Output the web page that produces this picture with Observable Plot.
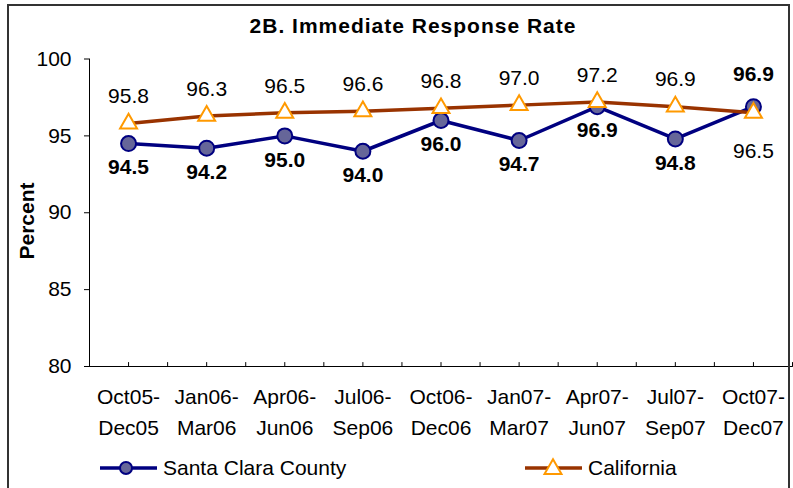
<!DOCTYPE html>
<html><head><meta charset="utf-8">
<script src="https://cdn.jsdelivr.net/npm/d3@7"></script>
<script src="https://cdn.jsdelivr.net/npm/@observablehq/plot@0.6"></script>
<style>
body{margin:0;background:#fff;font-family:"Liberation Sans",Arial,sans-serif;}
#wrap{position:relative;width:793px;height:488px;overflow:hidden;background:#fff;}
#frame{position:absolute;left:7px;top:4px;width:783px;height:520px;border:2px solid #333;box-sizing:border-box;pointer-events:none;}
#title{position:absolute;top:14px;left:0;width:826px;text-align:center;font-weight:bold;font-size:21px;letter-spacing:1px;color:#000;line-height:24px;}
#ylabel{position:absolute;left:27px;top:221px;transform:translate(-50%,-50%) rotate(-90deg);font-weight:bold;font-size:21px;white-space:nowrap;color:#000;}
.leg{position:absolute;top:456px;height:24px;display:flex;align-items:center;font-size:21px;color:#000;white-space:nowrap;}
.leg svg{margin-right:4px;}
#chart{position:absolute;left:0;top:0;}
</style>
</head><body>
<div id="wrap">
  <div id="chart"></div>
  <div id="title"></div>
  <div id="ylabel"></div>
  <div id="leg1" class="leg" style="left:99px"></div>
  <div id="leg2" class="leg" style="left:524px"></div>
  <div id="frame"></div>
</div>
<script>
const titleText = "2B. Immediate Response Rate";
const yLabel = "Percent";
const periods = ["Oct05-\nDec05","Jan06-\nMar06","Apr06-\nJun06","Jul06-\nSep06","Oct06-\nDec06","Jan07-\nMar07","Apr07-\nJun07","Jul07-\nSep07","Oct07-\nDec07"];
const seriesNames = ["Santa Clara County","California"];
const santaClara = [94.5, 94.2, 95.0, 94.0, 96.0, 94.7, 96.9, 94.8, 96.9];
const california = [95.8, 96.3, 96.5, 96.6, 96.8, 97.0, 97.2, 96.9, 96.5];
const yTicks = [80, 85, 90, 95, 100];

const rows = periods.map((p, i) => ({i, period: p, sc: santaClara[i], ca: california[i]}));
const last = rows.length - 1;
const fmt = d3.format(".1f");
const xTicks = d3.range(-0.5, periods.length, 0.5);

const SC_LINE = "#000080", SC_FILL = "#666699", CA_LINE = "#993300", CA_MARK = "#FF9900";

const tickShape = {draw(ctx, l){ ctx.moveTo(0,0); ctx.lineTo(0,-l); }};

const plot = Plot.plot({
  width: 793, height: 488,
  marginLeft: 89, marginRight: 1, marginTop: 58.5, marginBottom: 122,
  style: {fontFamily: "'Liberation Sans', Arial, sans-serif", fontSize: "21px", background: "transparent", color: "#000", overflow: "visible"},
  x: {type: "linear", domain: [-0.5, periods.length - 0.5], axis: null},
  y: {domain: [80, 100], axis: null},
  marks: [
    Plot.axisY({ticks: yTicks, tickSize: 5, tickPadding: 13, fontSize: 21, label: null, tickFormat: d => String(d)}),
    Plot.axisX({ticks: d3.range(periods.length), tickSize: 0, tickPadding: 16, fontSize: 21, lineHeight: 1.45, label: null, tickFormat: i => periods[i]}),
    Plot.vector(xTicks, {x: d => d, y: 80, length: 4, anchor: "start", shape: tickShape, stroke: "#000", strokeWidth: 1}),
    Plot.ruleX([-0.5], {stroke: "#000", strokeWidth: 1}),
    Plot.ruleY([80], {stroke: "#000", strokeWidth: 1}),
    Plot.line(rows, {x: "i", y: "sc", stroke: SC_LINE, strokeWidth: 3.5}),
    Plot.dot(rows, {x: "i", y: "sc", r: 7.5, fill: SC_FILL, stroke: SC_LINE, strokeWidth: 2}),
    Plot.line(rows, {x: "i", y: "ca", stroke: CA_LINE, strokeWidth: 3.5}),
    Plot.dot(rows, {x: "i", y: "ca", symbol: "triangle", r: 6.3, fill: "#fff", stroke: CA_MARK, strokeWidth: 2}),
    Plot.text(rows.slice(0, last), {x: "i", y: "ca", text: d => fmt(d.ca), dy: -27, fontSize: 21, fill: "#000"}),
    Plot.text(rows.slice(last), {x: "i", y: "ca", text: d => fmt(d.ca), dy: 38, fontSize: 21, fill: "#000"}),
    Plot.text(rows.slice(0, last), {x: "i", y: "sc", text: d => fmt(d.sc), dy: 24, fontSize: 21, fontWeight: "bold", fill: "#000"}),
    Plot.text(rows.slice(last), {x: "i", y: "sc", text: d => fmt(d.sc), dy: -32, fontSize: 21, fontWeight: "bold", fill: "#000"})
  ]
});
document.getElementById("chart").appendChild(plot);
document.getElementById("title").textContent = titleText;
document.getElementById("ylabel").textContent = yLabel;

function swatch(kind){
  const ns = "http://www.w3.org/2000/svg";
  const s = document.createElementNS(ns, "svg");
  s.setAttribute("width", 60); s.setAttribute("height", 24);
  const ln = document.createElementNS(ns, "line");
  ln.setAttribute("x1", 1); ln.setAttribute("x2", 58); ln.setAttribute("y1", 12); ln.setAttribute("y2", 12);
  ln.setAttribute("stroke", kind === "sc" ? SC_LINE : CA_LINE); ln.setAttribute("stroke-width", 3.5);
  s.appendChild(ln);
  if (kind === "sc") {
    const c = document.createElementNS(ns, "circle");
    c.setAttribute("cx", 27); c.setAttribute("cy", 12); c.setAttribute("r", 6);
    c.setAttribute("fill", SC_FILL); c.setAttribute("stroke", SC_LINE); c.setAttribute("stroke-width", 2);
    s.appendChild(c);
  } else {
    const p = document.createElementNS(ns, "path");
    p.setAttribute("d", d3.symbol(d3.symbolTriangle, Math.PI*6.3*6.3)());
    p.setAttribute("transform", "translate(29,13)");
    p.setAttribute("fill", "#fff"); p.setAttribute("stroke", CA_MARK); p.setAttribute("stroke-width", 2);
    s.appendChild(p);
  }
  return s;
}
const l1 = document.getElementById("leg1"); l1.appendChild(swatch("sc")); l1.appendChild(document.createTextNode(seriesNames[0]));
const l2 = document.getElementById("leg2"); l2.appendChild(swatch("ca")); l2.appendChild(document.createTextNode(seriesNames[1]));
</script>
</body></html>
